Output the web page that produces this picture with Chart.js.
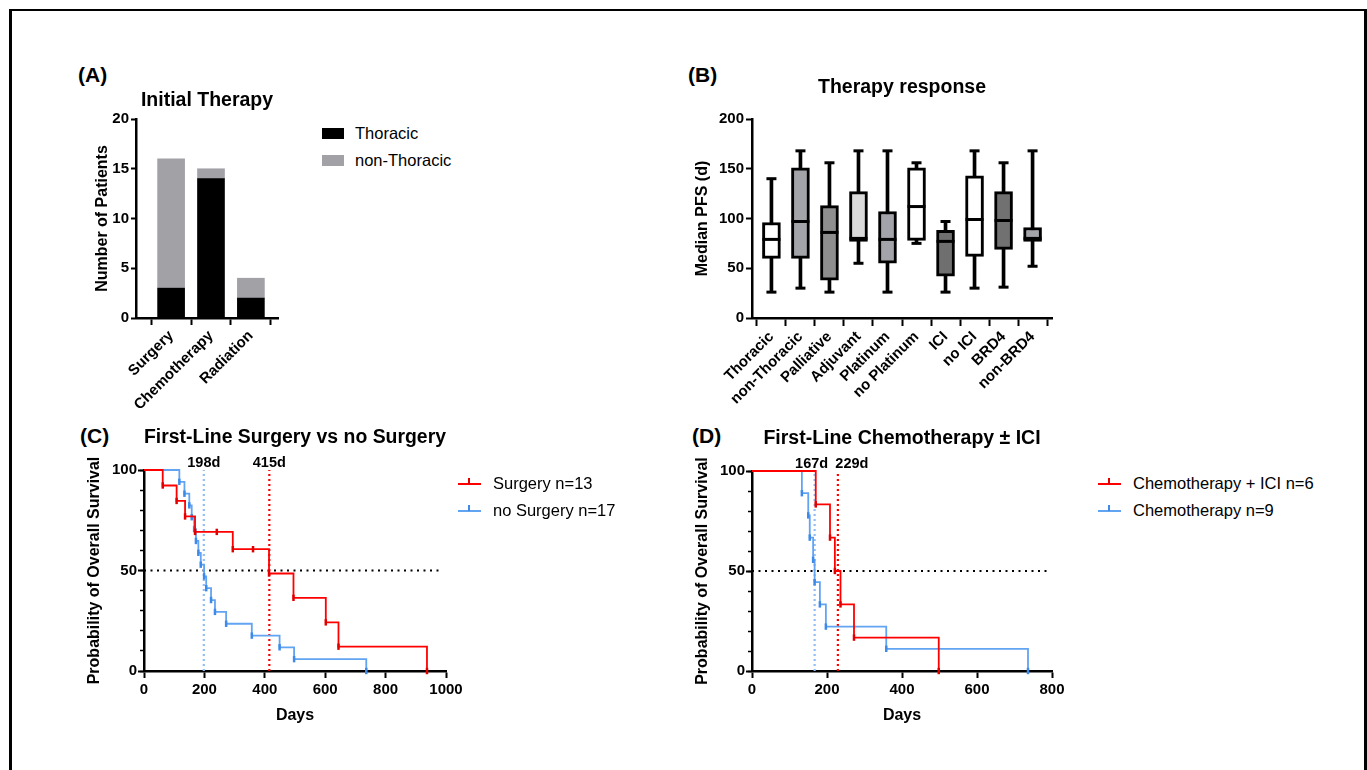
<!DOCTYPE html>
<html lang="en">
<head>
<meta charset="UTF-8">
<title>Initial therapy, therapy response and survival</title>
<script src="https://cdn.jsdelivr.net/npm/chart.js@4"></script>
<style>
  body { margin: 0; background: #fff; font-family: "Liberation Sans", Arial, sans-serif; }
  #fig { position: relative; width: 1367px; height: 770px; overflow: hidden; background: #fff; }
  #frame { position: absolute; left: 9px; top: 9px; width: 1358px; height: 800px; box-sizing: border-box;
           border: 3px solid #000; border-top-width: 2px; }
  canvas { position: absolute; }
  .tag { position: absolute; font-weight: bold; font-size: 21px; line-height: 21px; }
  .legend { position: absolute; font-size: 16.5px; color: #000; }
  .legend .row { display: flex; align-items: center; height: 27px; white-space: nowrap; }
  .legend .box { width: 22px; height: 11px; margin-right: 11px; }
  .legend .ln { position: relative; width: 23px; height: 2px; margin-right: 12px; }
  .legend .ln i { position: absolute; left: 10px; top: -5px; width: 2px; height: 6px; }
</style>
</head>
<body>
<div id="fig">
  <div id="frame"></div>
  <div class="tag" style="left:78px; top:64px">(A)</div>
  <div class="tag" style="left:688px; top:64px">(B)</div>
  <div class="tag" style="left:80px; top:425px">(C)</div>
  <div class="tag" style="left:692px; top:425px">(D)</div>

  <canvas id="chartA" width="208" height="328" style="left:80px; top:80px"></canvas>
  <canvas id="chartB" width="384" height="348" style="left:680px; top:60px"></canvas>
  <canvas id="chartC" width="386" height="315" style="left:80px; top:410px"></canvas>
  <canvas id="chartD" width="397" height="315" style="left:680px; top:410px"></canvas>

  <div class="legend" id="legendA" style="left:322px; top:120px"></div>
  <div class="legend" id="legendC" style="left:458px; top:470px"></div>
  <div class="legend" id="legendD" style="left:1098px; top:470px"></div>
</div>

<script>
  // (A) initial therapy
  const therapyCats = ['Surgery', 'Chemotherapy', 'Radiation'];
  const thoracicCounts = [3, 14, 2];
  const nonThoracicCounts = [13, 1, 2];

  // (B) therapy response, median PFS in days
  const responseCats = ['Thoracic', 'non-Thoracic', 'Palliative', 'Adjuvant', 'Platinum',
                        'no Platinum', 'ICI', 'no ICI', 'BRD4', 'non-BRD4'];
  const pfsMin = [26, 30, 26, 55, 26, 75, 26, 30, 31, 52];
  const pfsQ1  = [60, 60, 38, 77, 55, 78, 42, 62, 69, 77];
  const pfsMed = [79, 97, 86, 80, 79, 112, 77, 99, 98, 80];
  const pfsQ3  = [96, 151, 113, 127, 107, 151, 88, 143, 127, 91];
  const pfsMax = [140, 168, 156, 168, 168, 156, 97, 168, 156, 168];
  const boxFills = ['#ffffff', '#a3a3aa', '#8e8e8e', '#dadada', '#a3a3aa',
                    '#ffffff', '#6f6f6f', '#ffffff', '#717171', '#a3a3aa'];

  // (C) surgery vs no surgery, overall survival (%)
  const surgeryDays = [0, 62, 108, 136, 169, 241, 294, 361, 414, 495, 602, 644, 937];
  const surgerySurv = [100, 92.3, 84.6, 76.9, 69.2, 69.2, 60.6, 60.6, 48.5, 36.4, 24.2, 12.1, 0];
  const noSurgeryDays = [0, 117, 134, 150, 158, 166, 172, 180, 188, 199, 206, 222, 235, 272, 357, 449, 497, 736];
  const noSurgerySurv = [100, 94.1, 88.2, 82.4, 76.5, 70.6, 64.7, 58.8, 52.9, 47.1, 41.2, 35.3, 29.4, 23.5, 17.6, 11.8, 5.9, 0];
  const cMedians = [198, 415];
  const cHalfLine = [0, 985];

  // (D) chemotherapy +/- ICI
  const chemoIciDays = [0, 170, 208, 221, 236, 272, 498];
  const chemoIciSurv = [100, 83.3, 66.7, 50, 33.3, 16.7, 0];
  const chemoDays = [0, 133, 150, 154, 163, 167, 181, 197, 358, 736];
  const chemoSurv = [100, 88.9, 77.8, 66.7, 55.6, 44.4, 33.3, 22.2, 11.1, 0];
  const dMedians = [167, 229];
  const dHalfLine = [0, 789];

  const FONT = '"Liberation Sans", Arial, sans-serif';
  Chart.defaults.font.family = FONT;
  Chart.defaults.color = '#000';

  const tickFont = { size: 15, weight: 'bold' };
  const axisTitleFont = { size: 16, weight: 'bold' };
  const RED = '#ff0000', BLUE = '#62a4f2';

  function panelTitle(text, top, bottom) {
    return { display: true, text, fullSize: false, color: '#000',
             font: { size: 19.5, weight: 'bold' }, padding: { top, bottom } };
  }

  function axisGrid(len, width) {
    return { display: true, drawOnChartArea: false, drawTicks: true, tickLength: len,
             tickWidth: width, tickColor: '#000' };
  }

  const border = { display: true, color: '#000', width: 2.5 };
  const basePlugins = { legend: { display: false }, tooltip: { enabled: false } };

  // text above each median line
  const medianText = {
    id: 'medianText',
    afterDatasetsDraw(chart, args, opts) {
      const { ctx, chartArea, scales: { x } } = chart;
      ctx.save();
      ctx.font = 'bold 14.5px ' + FONT;
      ctx.fillStyle = '#000';
      ctx.textAlign = 'center';
      ctx.textBaseline = 'middle';
      opts.days.forEach((d, i) => {
        const shift = opts.shift ? opts.shift[i] : 0;
        ctx.fillText(d + 'd', x.getPixelForValue(d) + shift, chartArea.top - 7.5);
      });
      ctx.restore();
    }
  };

  function xy(xs, ys) { return xs.map((v, i) => ({ x: v, y: ys[i] })); }

  function catAxis(cats, min, max, tickLen) {
    return {
      type: 'linear', min, max, offset: false, stacked: true,
      afterBuildTicks: s => { s.ticks = cats.map((c, i) => ({ value: i })); },
      ticks: { autoSkip: false, minRotation: 45, maxRotation: 45, padding: 2,
               font: tickFont, color: '#000', callback: v => cats[v] },
      grid: axisGrid(tickLen, 2), border,
      afterFit: s => { s.height = 90; }
    };
  }

  // ---------- (A)
  const chartA = new Chart(document.getElementById('chartA'), {
    type: 'bar',
    data: {
      datasets: [
        { label: 'Thoracic', data: xy(therapyCats.map((c, i) => i), thoracicCounts),
          backgroundColor: '#000000', barThickness: 27 },
        { label: 'non-Thoracic', data: xy(therapyCats.map((c, i) => i), nonThoracicCounts),
          backgroundColor: '#a1a1a6', barThickness: 27 }
      ]
    },
    options: {
      responsive: false, animation: false, devicePixelRatio: 1,
      layout: { padding: { left: 13.4, right: 10, top: 0, bottom: 0 } },
      plugins: { ...basePlugins, title: panelTitle('Initial Therapy', 9.3, 6.3) },
      scales: {
        x: catAxis(therapyCats, -0.88, 2.68, 7),
        y: {
          min: 0, max: 20, stacked: true,
          ticks: { stepSize: 5, font: tickFont, color: '#000', padding: 2 },
          grid: axisGrid(5, 2), border,
          title: { display: true, text: 'Number of Patients', font: axisTitleFont, color: '#000', padding: 0 },
          afterFit: s => { s.width = 42.6; }
        }
      }
    }
  });

  // ---------- (B)
  const idx = responseCats.map((c, i) => i);
  const chartB = new Chart(document.getElementById('chartB'), {
    type: 'bar',
    data: {
      datasets: [
        { type: 'line', label: 'median', data: xy(idx, pfsMed), showLine: false,
          pointStyle: 'line', pointRadius: 9, pointBorderWidth: 3, pointBorderColor: '#000', order: 0 },
        { type: 'line', label: 'caps', data: xy(idx, pfsMin).concat(xy(idx, pfsMax)), showLine: false,
          pointStyle: 'line', pointRadius: 5, pointBorderWidth: 3, pointBorderColor: '#000', order: 1 },
        { label: 'box', data: idx.map(i => ({ x: i, y: [pfsQ1[i], pfsQ3[i]] })), grouped: false,
          barThickness: 18, backgroundColor: boxFills, borderColor: '#000', borderWidth: 3,
          borderSkipped: false, order: 2 },
        { label: 'whisker', data: idx.map(i => ({ x: i, y: [pfsMin[i], pfsMax[i]] })), grouped: false,
          barThickness: 3, backgroundColor: '#000', order: 3 }
      ]
    },
    options: {
      responsive: false, animation: false, devicePixelRatio: 1,
      layout: { padding: { left: 12.9, right: 12, top: 0, bottom: 0 } },
      plugins: { ...basePlugins, title: panelTitle('Therapy response', 16, 19.6) },
      scales: {
        x: { ...catAxis(responseCats, -0.67, 9.67, 8), stacked: false },
        y: {
          min: 0, max: 200,
          ticks: { stepSize: 50, font: tickFont, color: '#000', padding: 2 },
          grid: axisGrid(6, 2), border,
          title: { display: true, text: 'Median PFS (d)', font: axisTitleFont, color: '#000', padding: 0 },
          afterFit: s => { s.width = 59.1; }
        }
      }
    }
  });

  // ---------- Kaplan-Meier panels
  function kmSeries(label, days, surv, color, markColor) {
    return {
      label, data: xy(days, surv), stepped: true, fill: false, inLegend: true,
      borderColor: color, borderWidth: 1.8, clip: 8, order: 1,
      pointStyle: 'line', pointRotation: 90, pointBorderWidth: 2.5, pointBorderColor: markColor,
      pointRadius: c => (c.dataIndex === 0 ? 0 : 3.2)
    };
  }
  function dotted(data, color, dash) {
    return { data, borderColor: color, borderWidth: 2.2, borderDash: dash, pointRadius: 0,
             fill: false, clip: 4, order: 3 };
  }

  function kmChart(id, opts) {
    const datasets = [
      kmSeries(opts.names[0], opts.redDays, opts.redSurv, RED, '#e00000'),
      kmSeries(opts.names[1], opts.blueDays, opts.blueSurv, BLUE, '#3d8ae8'),
      dotted([{ x: opts.medians[0], y: 0 }, { x: opts.medians[0], y: 100 }], '#8fbdf4', [2, 3]),
      dotted([{ x: opts.medians[1], y: 0 }, { x: opts.medians[1], y: 100 }], RED, [2, 3]),
      dotted([{ x: opts.half[0], y: 50 }, { x: opts.half[1], y: 50 }], '#000', [2, 4.5])
    ];
    return new Chart(document.getElementById(id), {
      type: 'line',
      data: { datasets },
      plugins: [medianText],
      options: {
        responsive: false, animation: false, devicePixelRatio: 1,
        layout: { padding: opts.padding },
        plugins: { ...basePlugins, title: panelTitle(opts.title, opts.titlePad[0], opts.titlePad[1]),
                   medianText: { days: opts.medians, shift: opts.shift } },
        scales: {
          x: {
            type: 'linear', min: 0, max: opts.xMax,
            ticks: { stepSize: 200, font: tickFont, color: '#000', padding: 3, callback: v => String(v) },
            grid: axisGrid(7, 2), border,
            title: { display: true, text: 'Days', font: axisTitleFont, color: '#000', padding: 0 },
            afterFit: s => { s.height = 54; }
          },
          y: {
            type: 'linear', position: 'left', min: 0, max: 100, weight: 1,
            ticks: { stepSize: 50, font: tickFont, color: '#000', padding: 1 },
            grid: axisGrid(6, 2), border,
            title: { display: true, text: 'Probability of Overall Survival', font: axisTitleFont,
                     color: '#000', padding: 0 },
            afterFit: s => { s.width = opts.yWidth; }
          },
          yMinor: {
            type: 'linear', position: 'left', min: 0, max: 100, weight: 0,
            ticks: { display: false, stepSize: 10 },
            grid: axisGrid(4, 1.5), border: { display: false },
            afterFit: s => { s.width = 0; }
          }
        }
      }
    });
  }

  const chartC = kmChart('chartC', {
    title: 'First-Line Surgery vs no Surgery', titlePad: [16.3, 20.3],
    names: ['Surgery n=13', 'no Surgery n=17'],
    redDays: surgeryDays, redSurv: surgerySurv, blueDays: noSurgeryDays, blueSurv: noSurgerySurv,
    medians: cMedians, half: cHalfLine, xMax: 1000, yWidth: 58.6,
    padding: { left: 5.4, right: 20, top: 0, bottom: 0 }
  });

  const chartD = kmChart('chartD', {
    title: 'First-Line Chemotherapy \u00b1 ICI', titlePad: [17.3, 20.3],
    names: ['Chemotherapy + ICI n=6', 'Chemotherapy n=9'],
    redDays: chemoIciDays, redSurv: chemoIciSurv, blueDays: chemoDays, blueSurv: chemoSurv,
    medians: dMedians, half: dHalfLine, xMax: 800, yWidth: 59.1, shift: [-3, 14],
    padding: { left: 12.9, right: 25, top: 0, bottom: 0 }
  });

  // HTML legends built from the chart datasets
  function boxLegend(chart, elId) {
    const el = document.getElementById(elId);
    chart.data.datasets.forEach(ds => {
      const row = document.createElement('div');
      row.className = 'row';
      row.innerHTML = '<span class="box" style="background:' + ds.backgroundColor + '"></span><span></span>';
      row.lastChild.textContent = ds.label;
      el.appendChild(row);
    });
  }
  function lineLegend(chart, elId) {
    const el = document.getElementById(elId);
    chart.data.datasets.filter(ds => ds.inLegend).forEach(ds => {
      const row = document.createElement('div');
      row.className = 'row';
      row.innerHTML = '<span class="ln" style="background:' + ds.borderColor + '"><i style="background:' +
                      ds.pointBorderColor + '"></i></span><span></span>';
      row.lastChild.textContent = ds.label;
      el.appendChild(row);
    });
  }
  boxLegend(chartA, 'legendA');
  lineLegend(chartC, 'legendC');
  lineLegend(chartD, 'legendD');
</script>
</body>
</html>
